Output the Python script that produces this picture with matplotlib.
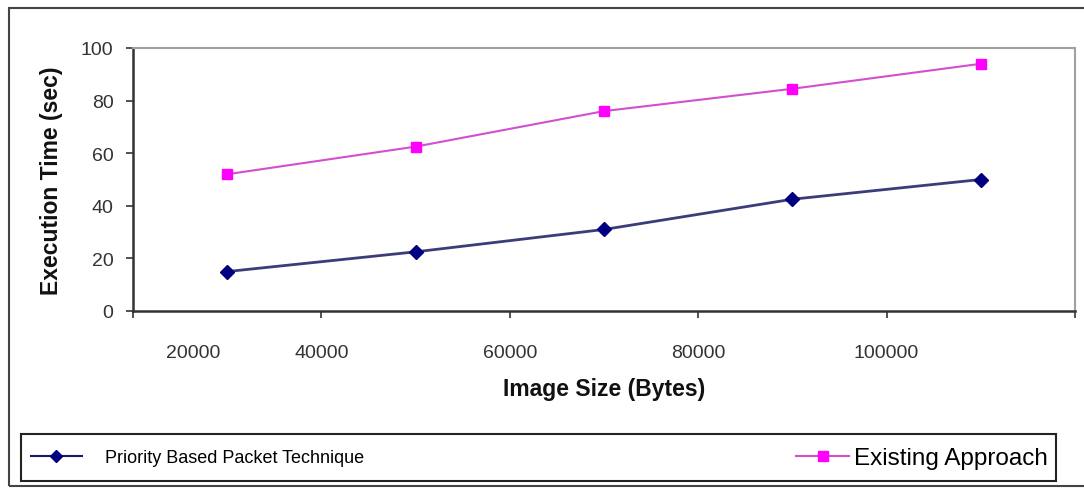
import matplotlib
matplotlib.use("Agg")
from matplotlib import pyplot as plt
from matplotlib.patches import Rectangle
from matplotlib.lines import Line2D
import matplotlib.transforms as mtransforms

plt.rcParams['font.family'] = ['Liberation Sans', 'DejaVu Sans']

# data
image_size = [30000, 50000, 70000, 90000, 110000]
priority_based = [15, 22.5, 31, 42.5, 50]
existing = [52, 62.5, 76, 84.5, 94]
x_ticks = [20000, 40000, 60000, 80000, 100000, 120000]
x_tick_labels = ['20000', '40000', '60000', '80000', '100000', '']
y_ticks = [0, 20, 40, 60, 80, 100]

fig = plt.figure(figsize=(10.84, 4.89), dpi=100)
ax = fig.add_axes([133 / 1084, 1 - 312 / 489, (1075 - 133) / 1084, (312 - 49) / 489])

ax.plot(image_size, priority_based, color='#3c3c7a', lw=2, marker='D', ms=7,
        mfc='#000080', mec='#000080', label='Priority Based Packet Technique')
ax.plot(image_size, existing, color='#d050d0', lw=1.5, marker='s', ms=7,
        mfc='#ff00ff', mec='#ff00ff', label='Existing Approach')

ax.set_xlim(20000, 120000)
ax.set_ylim(0, 100)
ax.set_xticks(x_ticks)
ax.set_xticklabels(x_tick_labels)
ax.set_yticks(y_ticks)
ax.tick_params(axis='both', labelsize=14, labelcolor='#333333', color='#333333',
               direction='out', length=5, width=1.2)
ax.tick_params(axis='x', pad=19)
ax.tick_params(axis='y', pad=9)

# the first x label sits right of its tick in the original
lbl = ax.get_xticklabels()[0]
lbl.set_transform(lbl.get_transform() + mtransforms.ScaledTranslation(0.6, 0, fig.dpi_scale_trans))

for side in ['left', 'bottom']:
    ax.spines[side].set_color('#333333')
    ax.spines[side].set_linewidth(1.8)
for side in ['right', 'top']:
    ax.spines[side].set_color('#a0a0a0')
    ax.spines[side].set_linewidth(1.5)

ax.set_ylabel('Execution Time (sec)', fontsize=16.5, fontweight='bold', labelpad=13, color='#111111')
ax.set_xlabel('Image Size (Bytes)', fontsize=16.5, fontweight='bold', labelpad=11, color='#111111')

# outer chart frame
fig.patches.append(Rectangle((9 / 1084, 1 - 487 / 489), 1.2, (487 - 9) / 489,
                             transform=fig.transFigure, fill=False, ec='#444444', lw=1.5))
# legend box
fig.patches.append(Rectangle((21 / 1084, 1 - 482 / 489), (1056 - 21) / 1084, (482 - 435) / 489,
                             transform=fig.transFigure, fill=False, ec='#222222', lw=1.5))

h1 = Line2D([], [], color='#1a1a60', lw=1.5, marker='D', ms=6, mfc='#000080', mec='#000080')
h2 = Line2D([], [], color='#d050d0', lw=1.5, marker='s', ms=7, mfc='#ff00ff', mec='#ff00ff')
fig.legend([h1], ['Priority Based Packet Technique'], loc='center left',
           bbox_to_anchor=(31 / 1084, 1 - 459 / 489), frameon=False, fontsize=13,
           handlelength=2.8, handletextpad=1.3, borderaxespad=0, borderpad=0)
fig.legend([h2], ['Existing Approach'], loc='center right',
           bbox_to_anchor=(1048 / 1084, 1 - 459 / 489), frameon=False, fontsize=17.5,
           handlelength=2.2, handletextpad=0.2, borderaxespad=0, borderpad=0)

fig.savefig('out.png', dpi=100)
